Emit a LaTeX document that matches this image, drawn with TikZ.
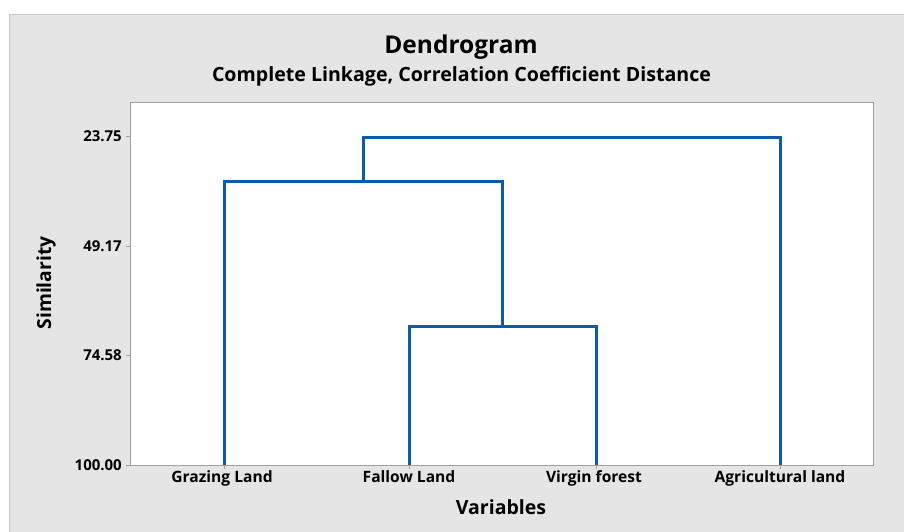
\documentclass[tikz,border=0pt]{standalone}
\usepackage{fontspec}
\setmainfont{Open Sans}
\definecolor{bggray}{HTML}{E5E5E5}
\definecolor{bdgray}{HTML}{C8C8C8}
\definecolor{axgray}{HTML}{A0A0A0}
\definecolor{dblue}{HTML}{0A5BAD}
\begin{document}
\begin{tikzpicture}[x=1pt,y=-1pt,
  link/.style={draw=dblue,line width=3pt,line join=miter},
  ticklab/.style={font=\fontsize{15}{17}\selectfont\bfseries,inner sep=0pt},
  leaflab/.style={font=\fontsize{15.6}{17}\selectfont\bfseries,inner sep=0pt,anchor=north}]
\useasboundingbox (0,0) rectangle (904,531);
\fill[white] (0,0) rectangle (904,531);
\filldraw[fill=bggray,draw=bdgray,line width=1pt] (9,14) rectangle (910,540);
\filldraw[fill=white,draw=axgray,line width=0.8pt] (130,102) rectangle (873,465);
% titles
\node[font=\fontsize{24.5}{28}\selectfont\bfseries] (title) at (461,47) {Dendrogram};
\node[font=\fontsize{19.6}{22}\selectfont\bfseries] (sub) at (461.5,76) {Complete Linkage, Correlation Coefficient Distance};
\node[font=\fontsize{19.3}{22}\selectfont\bfseries,rotate=90] (ylab) at (46,283) {Similarity};
\node[font=\fontsize{19.5}{22}\selectfont\bfseries] (xlab) at (501,507) {Variables};
% y ticks
\foreach \v/\y in {23.75/136,49.17/246,74.58/355,100.00/465}{
  \draw[axgray,line width=0.8pt] (126,\y) -- (130,\y);
  \node[ticklab,anchor=east] at (122,\y) {\v};
}
% leaves
\coordinate (g) at (224,465);
\coordinate (f) at (409,465);
\coordinate (v) at (596,465);
\coordinate (a) at (780,465);
\foreach \c in {g,f,v,a}{\draw[axgray,line width=0.8pt] (\c) -- ++(0,4);}
\node[leaflab] (lg) at (222,470) {Grazing Land};
\node[leaflab] (lf) at (409,470) {Fallow Land};
\node[leaflab] (lv) at (594,470) {Virgin forest};
\node[leaflab] (la) at (780,470) {Agricultural land};
% merges
\coordinate (m1) at (502.5,326);
\coordinate (m2) at (363,181);
\coordinate (m3) at (571,137);
\draw[link] (f) |- (m1) -| (v);
\draw[link] (g) |- (m2) -| (m1);
\draw[link] (m2) |- (m3) -| (a);
\end{tikzpicture}
\end{document}
